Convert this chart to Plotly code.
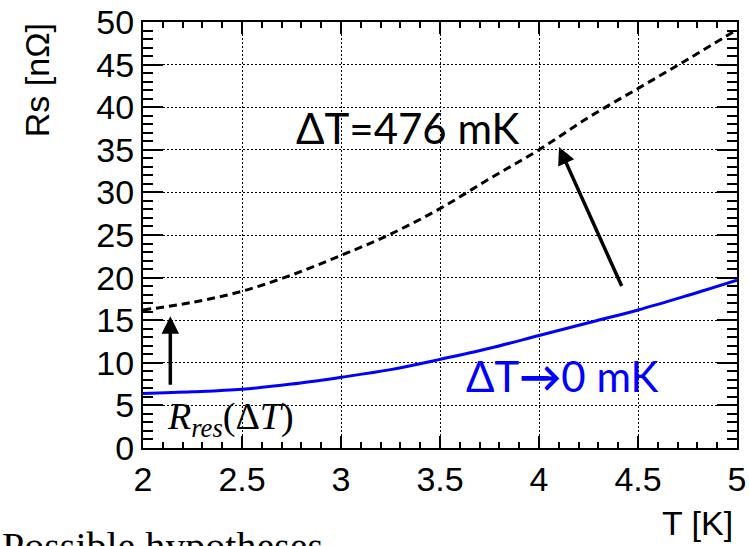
import plotly.graph_objects as go

# Temperature grid [K]
T = [2.0, 2.25, 2.5, 2.75, 3.0, 3.25, 3.5, 3.75, 4.0, 4.25, 4.5, 4.75, 5.0]

# Surface resistance [nOhm]
rs_dt0 = [6.4, 6.6, 6.9, 7.5, 8.3, 9.2, 10.4, 11.7, 13.2, 14.7, 16.2, 17.9, 19.7]
rs_dt476 = [16.2, 17.1, 18.4, 20.3, 22.6, 25.1, 28.1, 31.6, 35.0, 38.8, 42.2, 45.6, 49.1]

x_tickvals = [2, 2.5, 3, 3.5, 4, 4.5, 5]
x_ticktext = ["2", "2.5", "3", "3.5", "4", "4.5", "5"]
y_tickvals = [0, 5, 10, 15, 20, 25, 30, 35, 40, 45, 50]
y_ticktext = ["0", "5", "10", "15", "20", "25", "30", "35", "40", "45", "50"]

# Arrow endpoints (tail -> tip) in data units
rres_arrow = {"tail": (2.138, 7.24), "tip": (2.138, 15.46)}
shift_arrow = {"tail": (4.421, 18.83), "tip": (4.101, 35.33)}

AX_FONT = "Liberation Sans, Arial, sans-serif"
TXT_FONT = "Lato, Open Sans, sans-serif"

fig = go.Figure()

fig.add_trace(go.Scatter(
    x=T, y=rs_dt476, mode="lines",
    line=dict(color="black", width=3, dash="8px,5px", shape="spline"),
    showlegend=False, hoverinfo="skip",
))
fig.add_trace(go.Scatter(
    x=T, y=rs_dt0, mode="lines",
    line=dict(color="#0000ff", width=3, shape="spline"),
    showlegend=False, hoverinfo="skip",
))

axis_common = dict(
    showline=True, linecolor="black", linewidth=2, mirror="ticks",
    ticks="inside", tickcolor="black", tickwidth=2,
    showgrid=True, gridcolor="black", gridwidth=1, griddash="2px,2px",
    zeroline=False, automargin=False,
    tickfont=dict(family=AX_FONT, size=34, color="black"),
)

fig.update_xaxes(
    range=[2, 5], tickmode="array", tickvals=x_tickvals, ticktext=x_ticktext,
    ticklen=12,
    minor=dict(ticks="inside", ticklen=6, dtick=0.1, tick0=2,
               tickcolor="black", tickwidth=1.5, showgrid=False),
    **axis_common,
)
fig.update_yaxes(
    range=[0, 50], tickmode="array", tickvals=y_tickvals, ticktext=y_ticktext,
    ticklen=20,
    minor=dict(ticks="inside", ticklen=10, dtick=1, tick0=0,
               tickcolor="black", tickwidth=1.5, showgrid=False),
    **axis_common,
)

annotations = [
    # axis titles
    dict(text="Rs [nΩ]", xref="paper", yref="paper", x=-0.178, y=0.864,
         textangle=-90, showarrow=False, xanchor="center", yanchor="middle",
         font=dict(family=AX_FONT, size=34, color="black")),
    dict(text="T [K]", xref="paper", yref="paper", x=0.9966, y=-0.176,
         showarrow=False, xanchor="right", yanchor="middle",
         font=dict(family=AX_FONT, size=34, color="black")),
    # curve labels
    dict(text="ΔT=476 mK", x=3.339, y=37.6, showarrow=False,
         xanchor="center", yanchor="middle",
         font=dict(family=TXT_FONT, size=42, color="black")),
    dict(text="ΔT<b>→</b>0 mK", x=4.12, y=8.4, showarrow=False,
         xanchor="center", yanchor="middle",
         font=dict(family=TXT_FONT, size=42, color="#0000ff")),
    dict(text="<i>R</i><sub><i>res</i></sub>(Δ<i>T</i>)", x=2.443, y=3.4,
         showarrow=False, xanchor="center", yanchor="middle",
         font=dict(family="Liberation Serif, DejaVu Serif, serif", size=38, color="black")),
    # arrows
    dict(text="", x=rres_arrow["tip"][0], y=rres_arrow["tip"][1],
         ax=rres_arrow["tail"][0], ay=rres_arrow["tail"][1],
         axref="x", ayref="y", showarrow=True, arrowhead=2, arrowsize=1,
         arrowwidth=3.5, arrowcolor="black", standoff=0),
    dict(text="", x=shift_arrow["tip"][0], y=shift_arrow["tip"][1],
         ax=shift_arrow["tail"][0], ay=shift_arrow["tail"][1],
         axref="x", ayref="y", showarrow=True, arrowhead=2, arrowsize=1,
         arrowwidth=3.5, arrowcolor="black", standoff=0),
    # caption line running off the bottom edge
    dict(text="Possible hypotheses", xref="paper", yref="paper", x=-0.2407, y=-0.1737,
         showarrow=False, xanchor="left", yanchor="top",
         font=dict(family="Liberation Serif, serif", size=40, color="black")),
]

fig.update_layout(
    width=749, height=546, autosize=False,
    margin=dict(l=143, r=12, t=22, b=98, pad=0),
    paper_bgcolor="white", plot_bgcolor="white",
    annotations=annotations,
)

fig.write_html("out.html")
